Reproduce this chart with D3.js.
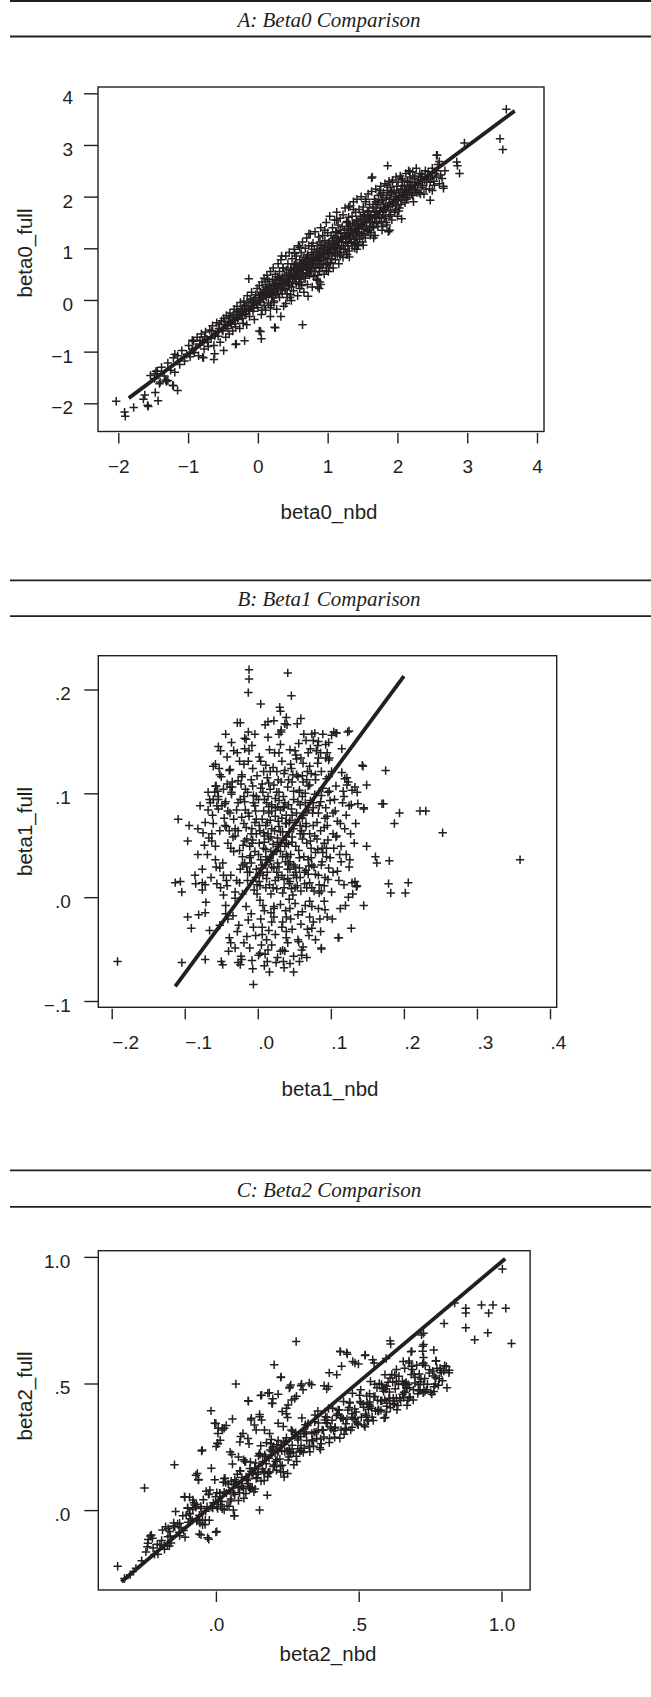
<!DOCTYPE html>
<html><head><meta charset="utf-8">
<script src="https://cdn.jsdelivr.net/npm/d3@7"></script>
<style>body{margin:0;background:#fff}svg{display:block}</style>
</head><body>
<svg id="c" width="651" height="1697"></svg>
<script>
// ---------------- data ----------------
const titles = ["A: Beta0 Comparison", "B: Beta1 Comparison", "C: Beta2 Comparison"];
const xTitles = ["beta0_nbd", "beta1_nbd", "beta2_nbd"];
const yTitles = ["beta0_full", "beta1_full", "beta2_full"];

const ticksA = [-2, -1, 0, 1, 2, 3, 4];
const tickLabelsA = ["\u22122", "\u22121", "0", "1", "2", "3", "4"];
const xTicksB = [-0.2, -0.1, 0, 0.1, 0.2, 0.3, 0.4];
const xTickLabelsB = ["\u2212.2", "\u2212.1", ".0", ".1", ".2", ".3", ".4"];
const yTicksB = [-0.1, 0, 0.1, 0.2];
const yTickLabelsB = ["\u2212.1", ".0", ".1", ".2"];
const ticksC = [0, 0.5, 1];
const tickLabelsC = [".0", ".5", "1.0"];

const fitLineA = [[-1.85, -1.90], [3.68, 3.66]];
const fitLineB = [[-0.113, -0.086], [0.200, 0.213]];
const fitLineC = [[-0.331, -0.283], [1.013, 0.993]];

const pointsA = [
[-1.48,-1.52],[-1.44,-1.38],[-1.41,-1.62],[-1.38,-1.30],[-1.34,-1.47],[-1.31,-1.58],[-1.29,-1.22],[-1.25,-1.36],[-1.21,-1.12],
[-1.19,-1.40],[-1.15,-1.08],[-1.12,-1.25],[-1.09,-0.98],[-1.05,-1.18],[-1.02,-1.05],
[-0.99,-0.88],[-0.97,-1.10],[-0.94,-0.95],[-0.92,-0.80],[-0.91,-1.02],[-0.89,-0.92],[-0.87,-0.72],[-0.85,-1.08],[-0.83,-0.85],[-0.81,-0.66],
[-0.79,-0.80],[-0.77,-0.95],[-0.75,-0.62],[-0.73,-0.76],[-0.71,-0.90],[-0.69,-0.58],[-0.67,-0.74],[-0.65,-0.50],[-0.63,-0.88],[-0.61,-0.66],
[-0.59,-0.44],[-0.57,-0.70],[-0.56,-0.55],[-0.54,-0.82],[-0.52,-0.40],
[-0.50,-0.60],[-0.49,-0.36],[-0.47,-0.48],[-0.46,-0.72],[-0.45,-0.30],[-0.43,-0.55],[-0.42,-0.42],[-0.41,-0.66],
[-0.40,-0.25],[-0.38,-0.47],[-0.37,-0.34],[-0.36,-0.60],[-0.34,-0.18],[-0.33,-0.40],[-0.32,-0.52],[-0.31,-0.28],
[-0.30,-0.12],[-0.29,-0.38],[-0.27,-0.24],[-0.26,-0.55],[-0.25,-0.05],[-0.23,-0.30],[-0.22,-0.16],[-0.21,-0.45],
[-0.20,-0.02],[-0.19,-0.26],[-0.17,-0.10],[-0.16,-0.48],[-0.15,0.08],[-0.13,-0.18],[-0.12,-0.32],[-0.11,0.02],
[-0.10,-0.12],[-0.09,0.15],[-0.07,-0.22],[-0.06,0.00],[-0.05,-0.38],[-0.03,0.10],[-0.02,-0.08],[-0.01,0.22],
[0.00,-0.15],[0.01,0.05],[0.02,0.28],[0.03,-0.04],[0.04,0.14],[0.05,-0.28],[0.06,0.35],[0.07,0.02],[0.08,0.20],[0.09,-0.10],[0.09,0.42],[0.10,0.10],
[0.11,-0.20],[0.11,0.30],[0.12,0.05],[0.13,0.48],[0.14,0.18],[0.15,-0.06],[0.16,0.36],[0.17,0.12],[0.18,0.55],[0.18,-0.15],[0.19,0.25],[0.20,0.05],
[0.21,0.40],[0.21,0.15],[0.22,0.62],[0.23,-0.02],[0.24,0.30],[0.25,0.50],[0.26,0.10],[0.27,0.38],[0.27,-0.18],[0.28,0.22],[0.29,0.70],[0.30,0.32],
[0.31,0.05],[0.31,0.55],[0.32,0.25],[0.33,0.78],[0.34,0.40],[0.35,0.12],[0.36,0.62],[0.36,0.30],[0.37,-0.12],[0.38,0.48],[0.39,0.20],[0.40,0.85],
[0.41,0.38],[0.41,0.58],[0.42,0.12],[0.43,0.70],[0.44,0.30],[0.45,0.92],[0.46,0.48],[0.46,0.05],[0.47,0.62],[0.48,0.25],[0.49,0.80],[0.50,0.42],
[0.51,0.58],[0.51,0.18],[0.52,0.98],[0.53,0.45],[0.54,0.70],[0.55,0.32],[0.55,0.85],[0.56,0.55],[0.57,0.08],[0.58,0.65],[0.58,1.05],[0.59,0.40],[0.60,0.78],[0.60,0.22],
[0.61,0.60],[0.62,0.92],[0.62,0.35],[0.63,0.72],[0.64,1.12],[0.65,0.50],[0.65,0.82],[0.66,0.15],[0.67,0.65],[0.68,1.00],[0.68,0.42],[0.69,0.78],[0.70,0.58],[0.70,1.20],
[0.71,0.30],[0.72,0.85],[0.72,0.62],[0.73,1.05],[0.74,0.48],[0.75,0.75],[0.75,1.28],[0.76,0.55],[0.77,0.92],[0.78,0.25],[0.78,0.70],[0.79,1.10],[0.80,0.82],[0.80,0.45],
[0.81,0.98],[0.82,0.62],[0.82,1.32],[0.83,0.80],[0.84,0.40],[0.85,1.05],[0.85,0.70],[0.86,0.88],[0.87,1.22],[0.88,0.55],[0.88,0.95],[0.89,0.75],[0.90,1.40],[0.90,0.30],
[0.91,0.85],[0.92,1.08],[0.92,0.62],[0.93,1.25],[0.94,0.78],[0.95,0.98],[0.95,0.50],[0.96,1.15],[0.97,0.88],[0.98,1.50],[0.98,0.68],[0.99,1.02],[1.00,0.80],[1.00,1.30],
[1.01,0.55],[1.02,1.12],[1.02,0.92],[1.03,1.62],[1.04,0.72],[1.05,1.25],[1.05,1.00],[1.06,0.85],[1.07,1.40],[1.08,1.08],[1.08,0.62],[1.09,1.20],[1.10,0.95],[1.10,1.55],
[1.11,0.78],[1.12,1.30],[1.12,1.05],[1.13,1.70],[1.14,0.88],[1.15,1.18],[1.15,1.45],[1.16,0.70],[1.17,1.00],[1.18,1.35],[1.18,1.58],[1.19,0.92],[1.20,1.22],[1.20,1.12],
[1.21,1.42],[1.22,0.82],[1.22,1.65],[1.23,1.05],[1.24,1.30],[1.25,1.78],[1.25,0.98],[1.26,1.20],[1.27,1.50],[1.28,0.88],[1.28,1.38],[1.29,1.10],[1.30,1.60],[1.30,1.28],
[1.31,0.95],[1.32,1.45],[1.32,1.82],[1.33,1.18],[1.34,1.35],[1.35,1.05],[1.35,1.62],[1.36,1.28],[1.37,1.90],[1.38,1.12],[1.38,1.48],[1.39,1.00],[1.40,1.70],[1.40,1.35],
[1.41,1.22],[1.42,1.55],[1.42,1.95],[1.43,1.08],[1.44,1.40],[1.45,1.75],[1.45,1.30],[1.46,1.18],[1.47,1.62],[1.48,1.45],[1.48,2.00],[1.49,1.25],[1.50,1.55],[1.50,1.12],
[1.51,1.80],[1.52,1.38],[1.53,1.62],[1.54,1.20],[1.55,1.95],[1.56,1.50],[1.57,1.72],[1.58,1.32],[1.58,2.05],[1.59,1.58],[1.60,1.42],[1.60,1.85],
[1.61,1.65],[1.62,1.30],[1.63,2.10],[1.64,1.52],[1.65,1.78],[1.66,1.40],[1.67,1.95],[1.68,1.62],[1.68,1.25],[1.69,2.15],[1.70,1.72],[1.70,1.50],
[1.71,1.88],[1.72,1.42],[1.73,2.02],[1.74,1.60],[1.75,1.78],[1.76,2.20],[1.77,1.52],[1.78,1.92],[1.78,1.35],[1.79,1.70],[1.80,2.08],[1.80,1.85],
[1.81,1.58],[1.82,2.25],[1.83,1.75],[1.84,1.98],[1.85,1.45],[1.86,2.12],[1.87,1.82],[1.88,2.30],[1.88,1.62],[1.89,1.95],[1.90,2.18],[1.90,1.72],
[1.91,2.05],[1.92,1.55],[1.93,2.32],[1.94,1.88],[1.95,2.12],[1.96,1.70],[1.97,2.00],[1.98,2.38],[1.98,1.82],[1.99,2.20],[2.00,1.95],[2.00,1.62],
[2.01,2.28],[2.02,2.08],[2.03,1.78],[2.04,2.40],[2.05,2.15],[2.06,1.92],[2.07,2.32],[2.08,2.02],[2.10,2.22],
[2.11,1.88],[2.12,2.45],[2.13,2.10],[2.14,2.30],[2.15,1.98],[2.16,2.50],[2.17,2.18],[2.18,2.38],[2.20,2.05],
[2.21,2.28],[2.22,2.48],[2.23,1.90],[2.24,2.15],[2.25,2.40],[2.26,2.22],[2.27,2.55],[2.28,2.08],[2.30,2.32],
[2.32,2.45],[2.34,2.18],[2.36,2.38],[2.38,2.05],[2.40,2.50],[2.42,2.28],[2.44,2.42],[2.46,2.15],[2.48,2.35],[2.50,2.55],
[2.52,2.30],[2.54,2.45],[2.56,2.38],[2.58,2.62],[2.60,2.25],[2.62,2.42],[2.64,2.35],[2.66,2.20],[2.68,2.50],
[3.56,3.69],[3.47,3.12],[3.51,2.91],[2.96,3.04],[2.56,2.80],[2.60,2.68],[2.85,2.67],[2.89,2.45],[2.86,2.60],[1.86,2.60],[1.64,2.38],[2.66,2.16],[2.47,1.93],[1.87,1.32],
[0.64,-0.48],[0.72,0.07],[0.88,0.22],[0.85,0.38],[0.05,-0.75],[0.24,-0.53],[0.33,-0.32],[0.18,-0.32],[0.02,-0.60],[-0.13,0.41],[-0.31,-0.85],[-0.19,-0.79],
[-0.49,-0.98],[-0.63,-1.15],[-0.79,-1.11],[-1.19,-1.05],[-1.48,-1.43],[-1.54,-1.46],[-1.47,-1.79],[-1.43,-1.95],[-1.62,-1.84],[-1.58,-2.04],[-1.64,-1.92],
[-1.78,-2.08],[-2.03,-1.96],[-1.91,-2.17],[-1.90,-2.25],[-1.15,-1.75],[-1.22,-1.65],[-1.32,-1.55],[-0.97,-1.04],[-1.57,-2.06],[-1.46,-1.38],[-1.40,-1.59],
[-1.29,-1.56],[-1.21,-1.66],[-0.78,-1.12],[-0.62,-1.04],[-0.94,-0.78],[-0.32,-0.86],[0.04,-0.61],[0.25,-0.54],[0.40,-0.07],[0.48,-0.01],[0.34,0.85],
[0.60,1.02],[0.73,1.28],[1.30,1.80],[1.63,2.36],[1.75,2.12],[1.85,2.22],[2.06,2.35],[2.18,2.48],[2.35,2.44],[2.45,2.35],[2.50,2.12],[2.57,2.80],[2.33,2.05],
[2.06,1.57],[1.89,1.35],[1.51,1.06],[1.39,1.09],[1.31,0.83],[0.89,0.64],[0.98,0.57],[0.89,0.35],[0.86,0.25]
];

const pointsA2 = [
[-0.83,-0.78],[-0.76,-0.71],[-0.72,-0.82],[-0.66,-0.60],[-0.62,-0.70],[-0.58,-0.62],[-0.55,-0.47],[-0.51,-0.58],[-0.48,-0.41],[-0.44,-0.50],
[-0.41,-0.33],[-0.39,-0.44],[-0.35,-0.29],[-0.33,-0.46],[-0.30,-0.22],[-0.28,-0.33],[-0.24,-0.19],[-0.22,-0.36],[-0.19,-0.12],[-0.17,-0.28],
[-0.14,-0.06],[-0.12,-0.20],[-0.08,-0.03],[-0.06,-0.16],[-0.04,0.04],[-0.01,-0.07],[0.02,0.09],[0.03,-0.02],[0.06,0.12],[0.07,0.03],
[0.09,0.16],[0.12,0.08],[0.13,0.22],[0.15,0.12],[0.17,0.27],[0.19,0.14],[0.21,0.08],[0.22,0.28],[0.24,0.18],[0.26,0.34],
[0.27,0.22],[0.29,0.13],[0.30,0.42],[0.32,0.33],[0.33,0.18],[0.35,0.44],[0.37,0.30],[0.38,0.38],[0.40,0.22],[0.41,0.48],
[0.43,0.35],[0.44,0.52],[0.45,0.27],[0.47,0.45],[0.48,0.58],[0.50,0.35],[0.51,0.50],[0.53,0.62],[0.54,0.40],[0.56,0.68],
[0.57,0.48],[0.58,0.55],[0.60,0.42],[0.61,0.70],[0.63,0.52],[0.64,0.62],[0.66,0.45],[0.67,0.75],[0.69,0.60],[0.70,0.68],
[0.72,0.52],[0.73,0.80],[0.74,0.65],[0.76,0.72],[0.77,0.58],[0.79,0.88],[0.80,0.70],[0.81,0.78],[0.83,0.62],[0.84,0.92],
[0.86,0.75],[0.87,0.82],[0.88,0.68],[0.90,1.00],[0.91,0.78],[0.93,0.90],[0.94,0.70],[0.96,1.05],[0.97,0.82],[0.99,0.95],
[1.00,0.72],[1.01,1.10],[1.03,0.90],[1.04,1.02],[1.06,0.80],[1.07,1.15],[1.09,0.98],[1.10,1.08],[1.11,0.88],[1.13,1.22],
[1.14,1.02],[1.16,1.12],[1.17,0.92],[1.19,1.28],[1.20,1.05],[1.21,1.18],[1.23,0.98],[1.24,1.35],[1.26,1.12],[1.27,1.25],
[1.29,1.05],[1.30,1.42],[1.31,1.20],[1.33,1.30],[1.34,1.12],[1.36,1.48],[1.37,1.25],[1.39,1.38],[1.40,1.18],[1.41,1.52],
[1.43,1.32],[1.44,1.45],[1.46,1.25],[1.47,1.58],[1.49,1.38],[1.50,1.48],[1.52,1.28],[1.53,1.65],[1.55,1.42],[1.56,1.58],
[1.57,1.35],[1.59,1.72],[1.61,1.50],[1.62,1.62],[1.64,1.42],[1.65,1.80],[1.67,1.58],[1.68,1.70],[1.70,1.48],[1.72,1.85],
[1.73,1.65],[1.75,1.72],[1.77,1.58],[1.78,1.95],[1.80,1.72],[1.82,1.80],[1.83,1.62],[1.85,2.02],[1.86,1.80],[1.88,1.88],
[1.90,1.65],[1.92,2.08],[1.93,1.85],[1.95,1.95],[1.97,1.75],[1.99,2.12],[2.01,1.92],[2.03,2.02],[2.05,1.85],[2.07,2.20],
[2.09,2.00],[2.11,2.12],[2.13,1.95],[2.15,2.28],[2.17,2.08],[2.19,2.20],[2.22,2.02],[2.24,2.35],[2.26,2.12],[2.29,2.25],
[2.31,2.08],[2.33,2.38],[2.36,2.22],[2.39,2.32],[2.41,2.15],[2.44,2.48],[2.47,2.28],[2.50,2.40],[2.53,2.22],[2.56,2.50],
[0.14,0.40],[0.36,0.62],[0.53,0.90],[0.77,1.05],[0.96,1.35],[1.13,1.55],[1.37,1.75],[1.54,1.90],[1.76,2.05],[1.93,2.28],
[0.06,-0.20],[0.23,-0.05],[0.47,0.10],[0.63,0.28],[0.86,0.48],[1.04,0.70],[1.27,0.88],[1.44,1.05],[1.66,1.20],[1.84,1.50],
[0.11,0.25],[0.28,0.45],[0.52,0.68],[0.71,0.88],[0.89,1.12],[1.12,1.32],[1.28,1.52],[1.51,1.70],[1.69,1.90],[1.91,2.10],
[0.19,-0.10],[0.42,0.05],[0.59,0.30],[0.82,0.55],[1.02,0.62],[1.18,0.85],[1.42,0.98],[1.61,1.25],[1.79,1.42],[2.02,1.72]
];

const pointsB = [
[-0.192,-0.062],[0.359,0.036],[0.253,0.062],[0.222,0.083],[0.230,0.083],[0.194,0.081],[0.187,0.071],[0.172,0.090],[0.175,0.122],[0.180,0.035],
[0.179,0.013],[0.182,0.004],[0.206,0.014],[0.202,0.004],[0.161,0.039],[0.163,0.033],[0.149,0.049],[0.144,0.126],[0.149,0.108],[0.145,0.085],
[0.125,0.160],[0.107,0.158],[0.101,0.156],[0.145,-0.008],[0.129,0.014],[0.135,0.010],[0.111,-0.039],[0.087,-0.050],
[-0.012,0.219],[-0.012,0.210],[-0.013,0.197],[0.041,0.216],[0.046,0.194],[0.004,0.186],[0.030,0.183],[0.031,0.179],[0.039,0.173],
[-0.028,0.168],[-0.024,0.168],[-0.044,0.157],[-0.054,0.145],[-0.058,0.128],[-0.061,0.126],[-0.038,0.123],[-0.050,0.116],[-0.022,0.116],
[-0.058,0.107],[-0.055,0.102],[-0.038,0.106],[-0.035,0.106],[-0.066,0.094],[-0.061,0.094],[-0.054,0.094],[-0.054,0.085],[-0.045,0.090],
[-0.013,0.159],[-0.004,0.157],[-0.018,0.153],[0.010,0.166],[0.014,0.169],[0.022,0.170],[0.029,0.157],[0.032,0.159],[0.037,0.167],[0.040,0.166],
[0.054,0.167],[0.059,0.172],[0.063,0.157],[0.074,0.157],[0.078,0.158],[0.089,0.157],[0.104,0.159],[0.108,0.158],[0.123,0.159],[0.083,0.150],
[0.082,0.146],[0.080,0.141],[0.095,0.139],[0.093,0.134],[0.097,0.132],[0.143,0.127],[0.115,0.120],[0.122,0.115],[0.124,0.111],[0.133,0.106],
[0.136,0.101],[0.129,0.103],[0.170,0.090],[0.137,0.090],[0.145,0.086],
[-0.109,0.075],[-0.094,0.069],[-0.082,0.066],[-0.072,0.072],[-0.096,0.054],[-0.073,0.050],[-0.063,0.054],[-0.113,0.014],[-0.106,0.015],[-0.104,0.005],
[-0.085,0.013],[-0.076,0.014],[-0.076,0.007],[-0.072,0.012],[-0.096,-0.019],[-0.081,-0.017],[-0.072,-0.015],[-0.091,-0.030],[-0.066,-0.032],[-0.076,0.027],
[-0.104,-0.063],[-0.072,-0.060],
[-0.050,-0.062],[-0.048,-0.065],[-0.040,-0.052],[-0.027,-0.063],[-0.024,-0.065],[-0.022,-0.060],[-0.007,-0.069],[-0.006,-0.084],[0.003,-0.054],[0.010,-0.055],
[0.013,-0.062],[0.016,-0.072],[0.035,-0.062],[0.044,-0.064],[0.049,-0.072],[0.060,-0.056],[0.060,-0.051],[0.034,-0.051],[0.056,-0.043],[0.087,-0.049],
[0.070,-0.037],[0.074,-0.030],[0.095,-0.019],[0.102,-0.021],[0.113,-0.011],[0.120,-0.008],[0.124,0.000],[0.130,0.003],[0.133,0.015],[0.136,0.011],
[0.128,-0.030],[0.110,-0.039],
[0.002,0.052],[0.014,0.061],[0.026,0.045],[0.038,0.071],[0.006,0.031],[0.019,0.089],[0.033,0.021],[0.047,0.058],[-0.008,0.066],[0.011,0.009],
[0.024,0.078],[0.041,0.039],[0.055,0.092],[-0.014,0.024],[0.029,0.101],[0.008,0.083],[0.017,0.035],[0.044,0.015],[0.060,0.064],[-0.002,0.097],
[0.035,0.055],[0.051,0.029],[0.022,-0.011],[0.006,-0.029],[0.039,-0.019],[0.015,0.110],[-0.020,0.050],[0.070,0.030],[0.065,0.100],[-0.010,0.040],
[-0.075,0.062],[-0.082,0.041],[-0.068,0.101],[-0.079,0.088],[-0.086,0.021],[-0.071,-0.005],[0.122,0.108],[0.128,0.089],[0.118,0.012],[0.134,0.071],
[0.126,0.036],[0.115,0.143],[-0.051,0.141],[-0.036,0.149],[0.097,0.149],[0.076,0.151],[-0.041,-0.021],[-0.031,-0.049],[0.086,-0.033],[0.067,-0.058]
];

const pointsB2 = [
[0.013,0.072],[-0.021,0.031],[0.048,0.118],[0.067,0.009],[-0.038,0.081],[0.091,0.052],[0.004,-0.021],[0.029,0.139],[-0.052,0.028],[0.076,0.091],
[0.018,0.003],[-0.009,0.113],[0.057,0.038],[0.039,-0.033],[-0.027,0.064],[0.103,0.081],[0.008,0.047],[0.062,0.129],[-0.044,-0.008],[0.083,0.021],
[0.027,0.087],[-0.016,0.152],[0.049,0.066],[0.112,0.041],[-0.061,0.071],[0.036,0.009],[0.071,0.108],[-0.003,0.019],[0.092,-0.012],[0.021,0.125],
[-0.033,0.044],[0.055,-0.041],[0.009,0.094],[0.078,0.059],[-0.047,0.104],[0.041,0.027],[0.119,0.066],[-0.012,0.078],[0.064,0.013],[0.032,0.161],
[-0.026,-0.027],[0.087,0.098],[0.015,0.056],[0.053,0.081],[-0.069,0.041],[0.097,0.028],[0.002,0.135],[0.044,-0.011],[-0.018,0.092],[0.073,0.047],
[0.024,0.016],[-0.039,0.122],[0.108,0.059],[0.035,0.097],[-0.005,0.007],[0.066,0.071],[-0.056,0.013],[0.083,0.134],[0.019,-0.046],[0.047,0.053],
[-0.023,0.109],[0.125,0.029],[0.011,0.069],[0.059,-0.026],[-0.034,0.058],[0.094,0.114],[0.038,0.034],[-0.008,0.146],[0.071,-0.004],[0.026,0.101],
[-0.049,0.088],[0.116,0.091],[0.005,0.028],[0.051,0.141],[-0.015,-0.038],[0.086,0.064],[0.033,0.076],[-0.064,0.019],[0.063,0.039],[0.017,0.121],
[-0.029,0.016],[0.101,0.005],[0.042,0.089],[-0.002,0.061],[0.079,0.118],[0.022,-0.019],[-0.042,0.135],[0.057,0.103],[0.013,0.036],[0.089,0.043],
[-0.019,0.071],[0.046,0.008],[0.132,0.052],[-0.054,0.097],[0.028,0.049],[0.069,0.084],[-0.011,0.024],[0.098,0.134],[0.037,-0.052],[0.004,0.105],
[0.058,0.019],[-0.036,0.099],[0.081,0.072],[0.016,0.142],[-0.058,0.049],[0.111,0.016],[0.031,0.063],[-0.004,0.088],[0.074,0.031],[0.045,0.128],
[-0.025,0.045],[0.093,0.086],[0.007,-0.008],[0.061,0.056],[-0.045,0.069],[0.028,0.113],[0.121,0.079],[-0.013,0.131],[0.052,0.024],[0.085,-0.021],
[0.019,0.083],[-0.031,0.005],[0.068,0.121],[0.039,0.071],[-0.068,0.084],[0.104,0.047],[0.001,0.041],[0.049,0.094],[-0.022,0.118],[0.077,0.006],
[0.034,0.039],[-0.052,0.118],[0.089,0.105],[0.012,0.018],[0.056,0.148],[-0.007,0.055],[0.095,0.069],[0.023,0.064],[-0.037,0.021],[0.065,0.091],
[0.043,-0.002],[-0.017,0.084],[0.117,0.102],[0.008,0.121],[0.072,0.054],[-0.041,0.052],[0.029,0.029],[0.084,0.088],[-0.063,0.061],[0.047,0.111],
[0.015,-0.032],[0.099,0.038],[-0.028,0.139],[0.061,0.076],[0.036,0.119],[-0.001,0.012],[0.109,0.073],[0.024,0.095],[-0.048,0.033],[0.079,0.022],
[0.053,0.133],[-0.014,0.101],[0.091,0.011],[0.006,0.075],[0.042,0.051],[-0.033,0.075],[0.127,0.061],[0.018,0.044],[0.066,0.026],[-0.057,0.107],
[0.031,0.084],[0.087,0.121],[-0.009,0.033],[0.058,0.069],[0.014,0.154],[-0.043,0.016],[0.105,0.094],[0.039,0.058],[-0.019,0.128],[0.075,0.081],
[0.003,0.064],[0.049,0.031],[-0.065,0.091],[0.096,0.055],[0.026,0.008],[-0.024,0.094],[0.069,0.139],[0.044,0.074],[-0.006,0.098],[0.114,0.034],
[0.021,0.051],[-0.035,0.111],[0.082,0.046],[0.055,0.116],[0.009,-0.013],[0.072,0.093],[-0.052,0.064],[0.037,0.091],[0.101,0.121],[-0.011,0.049],
[0.027,0.033],[-0.046,0.076],[0.084,0.012],[0.011,0.127],[0.063,0.061],[-0.021,0.003],[0.041,0.106],[0.109,0.025],[-0.003,0.083],[0.072,0.143],
[0.018,0.058],[-0.058,0.036],[0.095,0.078],[0.034,-0.024],[-0.012,0.141],[0.056,0.045],[0.125,0.088],[0.003,0.011],[0.078,0.099],[-0.039,0.064],
[0.046,0.124],[0.015,0.081],[-0.027,0.112],[0.088,0.034],[0.061,-0.014],[-0.008,0.052],[0.031,0.147],[0.103,0.061],[-0.051,0.009],[0.069,0.107],
[0.022,0.028],[-0.016,0.067],[0.082,0.129],[0.047,0.079],[-0.033,0.141],[0.114,0.049],[0.006,-0.036],[0.057,0.101],[-0.044,0.092],[0.091,0.067],
[0.036,0.017],[-0.001,0.117],[0.073,0.038],[0.012,0.091],[-0.062,0.079],[0.098,0.102],[0.043,0.063],[-0.024,0.027],[0.066,0.151],[0.028,0.073],
[-0.009,-0.016],[0.081,0.056],[0.052,0.137],[-0.037,0.047],[0.119,0.114],[0.009,0.059],[0.064,0.024],[-0.019,0.097],[0.039,0.041],[0.093,0.147],
[0.017,0.104],[-0.053,0.124],[0.076,0.069],[0.031,-0.007],[-0.004,0.072],[0.106,0.083],[0.049,0.021],[-0.029,0.084],[0.071,0.126],[0.023,0.139],
[0.058,0.089],[-0.011,0.038],[0.087,0.006],[0.004,0.131],[0.042,0.032],[-0.067,0.057],[0.097,0.116],[0.035,0.086],[-0.018,0.143],[0.067,0.052],
[0.013,0.024],[-0.042,0.109],[0.113,0.071],[0.054,0.011],[0.026,0.121],[-0.006,0.091],[0.079,0.113],[0.044,0.142],[-0.031,0.059],[0.092,0.019],
[0.019,0.066],[-0.056,0.088],[0.061,0.117],[0.037,0.049],[-0.014,0.016],[0.083,0.081],[0.007,0.101],[0.051,0.072],[-0.025,0.131],[0.121,0.041],
[0.029,0.093],[-0.047,0.021],[0.074,-0.009],[0.011,0.046],[0.059,0.134],[-0.002,0.027],[0.099,0.093],[0.042,0.113],[-0.036,0.101],[0.086,0.139],
[0.021,0.009],[-0.015,0.056],[0.066,0.082],[0.033,0.131],[-0.059,0.101],[0.107,0.107],[0.002,0.069],[0.048,0.002],[-0.022,0.077],[0.077,0.029],
[0.039,0.079],[-0.007,0.124],[0.094,0.047],[0.016,0.037],[0.062,0.111],[-0.043,0.068],[0.118,0.097],[0.027,0.057],[-0.017,0.104],[0.071,0.014]
];

const pointsB3 = [
[0.012,-0.041],[-0.034,-0.018],[0.051,-0.006],[0.027,-0.058],[-0.011,-0.049],[0.068,-0.031],[0.003,-0.003],[0.041,-0.044],[-0.047,0.002],[0.083,-0.011],
[0.019,-0.024],[-0.023,-0.057],[0.057,-0.062],[0.034,0.004],[-0.006,-0.029],[0.096,0.017],[0.009,-0.066],[0.045,-0.021],[-0.039,-0.039],[0.074,0.009],
[0.024,-0.036],[-0.016,-0.009],[0.062,-0.048],[0.001,-0.056],[0.038,-0.013],[-0.052,-0.027],[0.087,0.031],[0.016,0.012],[-0.028,-0.033],[0.053,0.019],
[0.031,-0.052],[-0.003,-0.037],[0.071,-0.019],[0.007,0.021],[0.047,-0.031],[-0.042,0.011],[0.091,-0.004],[0.022,-0.009],[-0.019,-0.044],[0.059,0.006],
[0.036,-0.068],[-0.008,-0.061],[0.079,-0.041],[0.014,-0.051],[0.043,0.013],[-0.031,-0.001],[0.103,0.024],[0.028,0.019],[-0.013,-0.022],[0.065,-0.008],
[0.005,-0.046],[-0.044,-0.016],[0.049,-0.057],[0.018,-0.015],[0.084,0.004],[-0.025,0.014],[0.039,-0.039],[-0.001,0.003],[0.069,0.022],[0.025,-0.063],
[-0.057,0.029],[0.094,0.039],[0.011,0.031],[0.055,-0.017],[-0.018,0.033],[0.033,-0.029],[0.076,-0.024],[-0.037,-0.044],[0.044,0.027],[0.002,0.015],
[0.021,0.041],[0.008,0.062],[0.036,0.087],[-0.004,0.044],[0.052,0.049],[0.014,0.097],[0.029,0.068],[-0.013,0.081],[0.044,0.034],[0.063,0.079],
[0.003,0.023],[0.032,0.111],[0.017,0.074],[0.049,0.102],[-0.009,0.061],[0.071,0.061],[0.024,0.086],[0.057,0.028],[0.006,0.109],[0.039,0.052],
[-0.021,0.039],[0.086,0.092],[0.011,0.039],[0.046,0.085],[0.026,0.024],[0.067,0.113],[-0.002,0.075],[0.034,0.063],[0.079,0.043],[0.015,0.087],
[0.058,0.061],[-0.027,0.091],[0.041,0.018],[0.022,0.108],[0.092,0.076],[0.001,0.094],[0.053,0.118],[-0.015,0.029],[0.069,0.036],[0.031,0.044],
[0.096,0.101],[0.009,0.053],[0.043,0.072],[-0.031,0.066],[0.076,0.086],[0.019,0.029],[0.061,0.097],[0.037,0.122],[-0.007,0.107],[0.107,0.058],
[0.027,0.053],[0.088,0.047],[-0.041,0.083],[0.051,0.009],[0.013,0.115],[0.073,0.119],[0.045,0.041],[-0.018,0.054],[0.066,0.068],[0.004,0.036]
];

const pointsC = [
[-0.344,-0.222],[-0.250,0.087],[-0.145,0.179],[-0.048,0.237],[-0.017,0.392],[0.070,0.498],[0.204,0.574],[0.281,0.666],[0.153,0.000],[1.003,0.952],
[1.015,0.797],[1.035,0.658],[0.952,0.700],[0.906,0.673],[0.875,0.797],[0.875,0.778],[0.875,0.720],[0.930,0.810],[0.970,0.810],[0.955,0.778],
[0.799,0.737],[0.836,0.818],[0.807,0.567],[0.785,0.560],[0.817,0.552],[0.770,0.523],[0.763,0.487],[0.770,0.589],[0.727,0.698],[0.727,0.654],
[0.763,0.632],[0.727,0.603],[0.727,0.581],[0.683,0.625],[0.676,0.589],[0.661,0.560],[0.610,0.669],[0.612,0.656],[0.596,0.599],[0.523,0.613],
[0.436,0.625],[0.458,0.622],[0.487,0.581],[0.530,0.356],[0.593,0.366],[0.570,0.392],[0.477,0.327],[0.625,0.421],[0.669,0.414],[0.727,0.465],
[0.763,0.468],[0.654,0.458],
[0.000,0.342],[0.022,0.323],[0.036,0.334],[0.113,0.432],[0.157,0.453],[0.182,0.462],[0.199,0.440],[0.196,0.422],[0.228,0.526],[0.262,0.494],
[0.298,0.491],[0.305,0.475],[0.247,0.381],[0.251,0.366],[0.124,0.363],[0.153,0.378],[0.160,0.356],[0.087,0.291],[0.084,0.269],[0.116,0.262],
[0.007,0.262],[0.015,0.276],
[-0.070,0.138],[-0.061,0.119],[-0.092,0.051],[-0.109,0.051],[-0.167,-0.073],[-0.148,-0.051],[-0.160,-0.102],[-0.203,-0.174],[-0.237,-0.116],[-0.230,-0.102],
[-0.240,-0.145],[0.000,-0.087],[-0.029,-0.109],[-0.058,-0.094],[-0.047,-0.058],[0.029,0.000],[0.065,-0.022],
[0.058,0.360],[0.160,0.454],[0.187,0.463],[0.218,0.458],[0.198,0.421],[0.259,0.486],[-0.004,0.343],[0.008,0.323],[0.023,0.316],[0.029,0.323],
[0.007,0.303],[0.005,0.264],[0.001,0.251],[-0.050,0.233],[-0.065,0.145],[-0.061,0.121],[-0.016,0.165],[-0.110,0.053],[-0.081,0.040],[-0.075,0.020],
[-0.099,0.007],[-0.093,-0.013],[-0.058,-0.020],[-0.037,-0.040],[-0.023,-0.040],[0.003,-0.085],[-0.025,-0.115],[-0.052,-0.098],[-0.127,-0.052],[-0.144,-0.065],
[-0.162,-0.085],[-0.168,-0.105],[-0.226,-0.098],[-0.222,-0.111],[-0.238,-0.131],[0.180,0.059],[0.064,-0.022],[0.061,0.000],[0.105,0.066],[0.122,0.086],
[0.239,0.131],[0.251,0.145],[0.098,0.047],[0.190,0.237],[0.201,0.251],[0.213,0.258],[0.050,0.229],[0.056,0.220],[0.079,0.210],[0.095,0.303],
[0.112,0.283],[0.123,0.356],[0.135,0.336],[0.141,0.316],[0.153,0.369],[0.170,0.316],[0.188,0.303],[0.232,0.389],[0.247,0.402],[0.253,0.415],
[0.265,0.435],[0.276,0.441],[0.282,0.450],[0.218,0.343],[0.236,0.330],
[0.227,0.524],[0.114,0.430],[0.257,0.482],[0.300,0.498],[0.327,0.502],[0.335,0.495],[0.379,0.491],[0.394,0.488],[0.388,0.478],[0.435,0.627],
[0.460,0.616],[0.522,0.611],[0.440,0.568],[0.479,0.587],[0.499,0.577],[0.397,0.542],[0.423,0.535],[0.549,0.594],[0.554,0.581],[0.686,0.627],
[0.720,0.692],[0.724,0.647],[0.724,0.627],[0.724,0.578],[0.632,0.555],[0.656,0.587],[0.677,0.581],[0.685,0.568],[0.592,0.535],[0.610,0.522],
[0.632,0.509],[0.656,0.496],[0.667,0.483],[0.580,0.496],[0.598,0.489],[0.697,0.502],[0.709,0.495],[0.715,0.475],[0.732,0.469],[0.662,0.464],
[0.680,0.447],[0.632,0.443],[0.621,0.417],[0.598,0.410],[0.569,0.397],[0.530,0.423],[0.540,0.410],[0.534,0.353],[0.589,0.364],
[-0.320,-0.270],[-0.300,-0.255],[-0.280,-0.230],[-0.260,-0.200],[-0.245,-0.165],[-0.220,-0.150],[-0.205,-0.135],[-0.190,-0.120],[-0.180,-0.155],[-0.215,-0.175],[-0.170,-0.140]
];

const pointsC2 = [
[-0.187,-0.079],[-0.163,-0.142],[-0.141,-0.006],[-0.122,-0.070],[-0.108,-0.107],[-0.091,-0.014],[-0.077,0.029],[-0.064,-0.037],[-0.052,0.006],[-0.038,-0.057],
[-0.026,0.063],[-0.017,0.012],[-0.004,0.120],[0.006,0.006],[0.014,0.067],[0.022,0.005],[0.029,0.125],[0.037,0.067],[0.043,0.103],[0.051,0.036],
[0.058,0.182],[0.066,0.062],[0.071,0.113],[0.079,0.038],[0.086,0.154],[0.093,0.093],[0.101,0.192],[0.108,0.117],[0.114,0.092],[0.121,0.190],
[0.127,0.144],[0.133,0.072],[0.139,0.186],[0.146,0.142],[0.152,0.224],[0.158,0.115],[0.164,0.192],[0.171,0.148],[0.177,0.266],[0.183,0.145],
[0.189,0.150],[0.194,0.279],[0.201,0.172],[0.207,0.226],[0.212,0.157],[0.218,0.275],[0.224,0.202],[0.229,0.255],[0.236,0.151],[0.241,0.231],
[0.247,0.286],[0.253,0.198],[0.259,0.232],[0.264,0.316],[0.271,0.228],[0.277,0.298],[0.283,0.192],[0.288,0.277],[0.294,0.233],[0.301,0.364],
[0.306,0.227],[0.312,0.303],[0.318,0.275],[0.323,0.342],[0.329,0.230],[0.336,0.303],[0.342,0.252],[0.347,0.376],[0.353,0.283],[0.359,0.344],
[0.366,0.239],[0.372,0.317],[0.378,0.289],[0.384,0.369],[0.391,0.343],[0.397,0.267],[0.403,0.320],[0.409,0.402],[0.416,0.288],[0.422,0.374],
[0.428,0.396],[0.434,0.284],[0.441,0.366],[0.447,0.429],[0.453,0.323],[0.459,0.359],[0.466,0.405],[0.472,0.316],[0.478,0.461],[0.484,0.361],
[0.491,0.387],[0.497,0.341],[0.503,0.454],[0.509,0.367],[0.516,0.418],[0.522,0.329],[0.528,0.451],[0.534,0.398],[0.541,0.508],[0.547,0.367],
[0.553,0.448],[0.559,0.392],[0.566,0.434],[0.572,0.500],[0.578,0.394],[0.584,0.479],[0.591,0.436],[0.597,0.387],[0.603,0.505],[0.609,0.433],
[0.616,0.536],[0.622,0.432],[0.628,0.479],[0.634,0.396],[0.641,0.529],[0.647,0.433],[0.653,0.508],[0.659,0.465],[0.666,0.504],[0.672,0.434],
[0.678,0.483],[0.684,0.536],[0.691,0.435],[0.697,0.525],[0.703,0.572],[0.711,0.471],[0.718,0.518],[0.726,0.463],[0.733,0.571],[0.741,0.497],
[0.748,0.554],[0.756,0.458],[0.764,0.530],[0.771,0.590],[0.779,0.493],[0.786,0.552],[0.793,0.511],[0.801,0.570],[0.809,0.483],[0.816,0.542],
[0.003,0.069],[0.017,0.022],[0.032,0.126],[0.046,0.015],[0.062,0.101],[0.075,0.142],[0.089,0.094],[0.104,0.192],[0.118,0.085],[0.131,0.148],
[0.144,0.128],[0.157,0.254],[0.169,0.117],[0.186,0.205],[0.198,0.245],[0.214,0.199],[0.227,0.150],[0.239,0.260],[0.252,0.232],[0.268,0.312],
[0.281,0.213],[0.296,0.291],[0.309,0.244],[0.321,0.334],[0.338,0.277],[0.351,0.308],[0.364,0.246],[0.381,0.356],[0.394,0.401],[0.412,0.313],
[0.437,0.365],[0.456,0.316],[0.469,0.423],[0.487,0.361],[0.505,0.429],[0.519,0.336],[0.537,0.418],[0.556,0.497],[0.569,0.394],[0.587,0.469],
[0.606,0.442],[0.619,0.505],[0.637,0.413],[0.656,0.497],[0.669,0.482],[0.688,0.555],[0.707,0.460],[0.731,0.520],[0.752,0.465],[0.774,0.559],
[-0.196,-0.138],[-0.176,-0.066],[-0.157,-0.130],[-0.134,-0.055],[-0.113,-0.081],[-0.099,0.009],[-0.083,-0.040],[-0.071,0.011],[-0.056,-0.051],[-0.044,0.041],
[-0.031,0.013],[-0.021,0.079],[-0.011,0.008],[-0.001,0.053],
[0.009,0.034],[0.026,0.110],[0.039,0.015],[0.054,0.114],[0.068,0.101],[0.083,0.069],[0.097,0.199],[0.111,0.105],[0.124,0.153],[0.137,0.083],
[0.149,0.214],[0.162,0.162],[0.174,0.211],[0.181,0.132],[0.192,0.262],[0.205,0.173],[0.217,0.231],[0.232,0.177],[0.244,0.270],[0.257,0.241],
[0.273,0.179],[0.286,0.285],[0.298,0.255],[0.313,0.337],[0.327,0.250],[0.344,0.307],[0.357,0.391],[0.369,0.262],[0.386,0.345],[0.401,0.328],
[0.418,0.324],[0.432,0.395],[0.449,0.300],[0.462,0.395],[0.476,0.381],[0.493,0.348],[0.507,0.475],[0.524,0.380],[0.539,0.427],[0.551,0.354],
[0.564,0.483],[0.581,0.431],[0.594,0.478],[0.611,0.404],[0.626,0.534],[0.644,0.441],[0.662,0.500],[0.677,0.444],[0.694,0.536],[0.715,0.507],
[0.738,0.475],[0.759,0.549],[0.782,0.519],[0.798,0.549],
[-0.181,-0.141],[-0.146,-0.066],[-0.127,-0.101],[-0.104,-0.020],[-0.089,-0.034],[-0.068,0.023],[-0.047,-0.040],[-0.034,0.074]
];

const pointsC3 = [
[0.013,0.067],[0.021,0.034],[0.034,0.109],[0.047,0.076],[0.053,0.044],[0.066,0.120],[0.078,0.088],[0.084,0.155],[0.097,0.085],[0.106,0.131],
[0.119,0.164],[0.127,0.090],[0.136,0.166],[0.148,0.149],[0.155,0.219],[0.167,0.152],[0.176,0.183],[0.184,0.150],[0.196,0.231],[0.209,0.193],
[0.218,0.234],[0.226,0.172],[0.237,0.269],[0.249,0.233],[0.256,0.210],[0.267,0.256],[0.279,0.306],[0.287,0.242],[0.299,0.234],[0.308,0.302],
[0.316,0.308],[0.328,0.252],[0.337,0.273],[0.346,0.349],[0.358,0.314],[0.367,0.281],[0.376,0.315],[0.389,0.366],[0.398,0.283],[0.407,0.355],
[0.417,0.327],[0.426,0.380],[0.438,0.316],[0.446,0.360],[0.455,0.341],[0.468,0.426],[0.477,0.367],[0.486,0.399],[0.498,0.337],[0.507,0.423],
[0.517,0.406],[0.526,0.373],[0.538,0.460],[0.546,0.402],[0.557,0.449],[0.568,0.390],[0.577,0.432],[0.588,0.481],[0.598,0.422],[0.608,0.466],
[-0.148,-0.063],[-0.129,-0.087],[-0.116,-0.022],[-0.097,-0.048],[-0.081,0.002],[-0.067,-0.043],[-0.053,0.014],[-0.036,-0.005],[-0.024,0.062],[-0.009,0.029],
[0.004,0.013],[0.029,0.071],[0.061,0.069],[0.091,0.129],[0.113,0.123],[0.141,0.125],[0.171,0.218],[0.203,0.178],[0.231,0.234],[0.262,0.225],
[0.621,0.442],[0.639,0.498],[0.658,0.445],[0.673,0.496],[0.692,0.475],[0.712,0.538],[0.728,0.497],[0.747,0.541],[0.768,0.498],[0.789,0.542]
];

// ---------------- layout ----------------
const ink = "#231f20";
const panels = [
  { title: titles[0], xTitle: xTitles[0], yTitle: yTitles[0], points: pointsA.concat(pointsA2), fit: fitLineA,
    lineTop: 1, lineBottom: 36.5, titleBase: 26.5,
    frame: [98, 87, 544, 431.5], xDom: [-2, 4], xRng: [118.3, 537], yDom: [-2, 4], yRng: [403.3, 93.3],
    xTicks: ticksA, xLabels: tickLabelsA, yTicks: ticksA, yLabels: tickLabelsA,
    xAnchor: "middle", yPad: 11, xTitleX: 329, xTitleY: 519.3, yTitleY: 253 },
  { title: titles[1], xTitle: xTitles[1], yTitle: yTitles[1], points: pointsB.concat(pointsB2, pointsB3), fit: fitLineB,
    lineTop: 580.4, lineBottom: 616.1, titleBase: 606,
    frame: [98.3, 655.7, 556.7, 1007.3], xDom: [-0.2, 0.4], xRng: [111.7, 550], yDom: [-0.1, 0.2], yRng: [1001, 689.5],
    xTicks: xTicksB, xLabels: xTickLabelsB, yTicks: yTicksB, yLabels: yTickLabelsB,
    xAnchor: "start", yPad: 13.5, xTitleX: 330, xTitleY: 1096, yTitleY: 831.5 },
  { title: titles[2], xTitle: xTitles[2], yTitle: yTitles[2], points: pointsC.concat(pointsC2, pointsC3), fit: fitLineC,
    lineTop: 1170.4, lineBottom: 1206.9, titleBase: 1196.5,
    frame: [98.3, 1250.7, 530.1, 1590], xDom: [0, 1], xRng: [215.9, 501.5], yDom: [0, 1], yRng: [1510.1, 1256.9],
    xTicks: ticksC, xLabels: tickLabelsC, yTicks: ticksC, yLabels: tickLabelsC,
    xAnchor: "middle", yPad: 14, xTitleX: 328, xTitleY: 1661, yTitleY: 1396 }
];

const svg = d3.select("#c");
svg.append("rect").attr("width", 651).attr("height", 1697).attr("fill", "#fff");

panels.forEach(p => {
  const g = svg.append("g");
  [p.lineTop, p.lineBottom].forEach(y => g.append("line")
    .attr("x1", 10).attr("x2", 651).attr("y1", y).attr("y2", y)
    .attr("stroke", ink).attr("stroke-width", 1.8));
  g.append("text").attr("x", 329).attr("y", p.titleBase)
    .attr("text-anchor", "middle")
    .attr("font-family", "'Liberation Serif','Times New Roman',serif")
    .attr("font-style", "italic").attr("font-size", 21)
    .attr("fill", ink).text(p.title);

  const x = d3.scaleLinear().domain(p.xDom).range(p.xRng);
  const y = d3.scaleLinear().domain(p.yDom).range(p.yRng);
  const [fx0, fy0, fx1, fy1] = p.frame;

  g.append("rect").attr("x", fx0).attr("y", fy0).attr("width", fx1 - fx0).attr("height", fy1 - fy0)
    .attr("fill", "none").attr("stroke", ink).attr("stroke-width", 1.4);

  const ax = g.append("g").attr("transform", `translate(0,${fy1 + 1.5})`)
    .call(d3.axisBottom(x).tickValues(p.xTicks).tickFormat((d, i) => p.xLabels[i])
      .tickSize(10.5).tickSizeOuter(0).tickPadding(16));
  const ay = g.append("g").attr("transform", `translate(${fx0},0)`)
    .call(d3.axisLeft(y).tickValues(p.yTicks).tickFormat((d, i) => p.yLabels[i])
      .tickSize(14).tickSizeOuter(0).tickPadding(p.yPad));
  [ax, ay].forEach(a => {
    a.select(".domain").remove();
    a.selectAll(".tick line").attr("stroke", ink).attr("stroke-width", 1.4);
    a.selectAll(".tick text").attr("fill", ink)
      .attr("font-family", "'Liberation Sans',Arial,Helvetica,sans-serif").attr("font-size", 19);
  });
  ay.selectAll(".tick text").attr("dy", "0.55em");
  ax.selectAll(".tick text").attr("text-anchor", p.xAnchor);

  g.append("text").attr("x", p.xTitleX).attr("y", p.xTitleY).attr("text-anchor", "middle")
    .attr("font-family", "'Liberation Sans',Arial,Helvetica,sans-serif").attr("font-size", 20.5)
    .attr("fill", ink).text(p.xTitle);
  g.append("text").attr("transform", `translate(31.5,${p.yTitleY}) rotate(-90)`).attr("text-anchor", "middle")
    .attr("font-family", "'Liberation Sans',Arial,Helvetica,sans-serif").attr("font-size", 20.5)
    .attr("fill", ink).text(p.yTitle);

  g.append("g").selectAll("path").data(p.points).join("path")
    .attr("transform", d => `translate(${x(d[0])},${y(d[1])})`)
    .attr("d", "M-4.2,0H4.2M0,-4.2V4.2")
    .attr("fill", "none").attr("stroke", ink).attr("stroke-width", 1.5);

  g.append("path").datum(p.fit)
    .attr("d", d3.line().x(d => x(d[0])).y(d => y(d[1])))
    .attr("fill", "none").attr("stroke", ink).attr("stroke-width", 3.8);
});
</script>
</body></html>
